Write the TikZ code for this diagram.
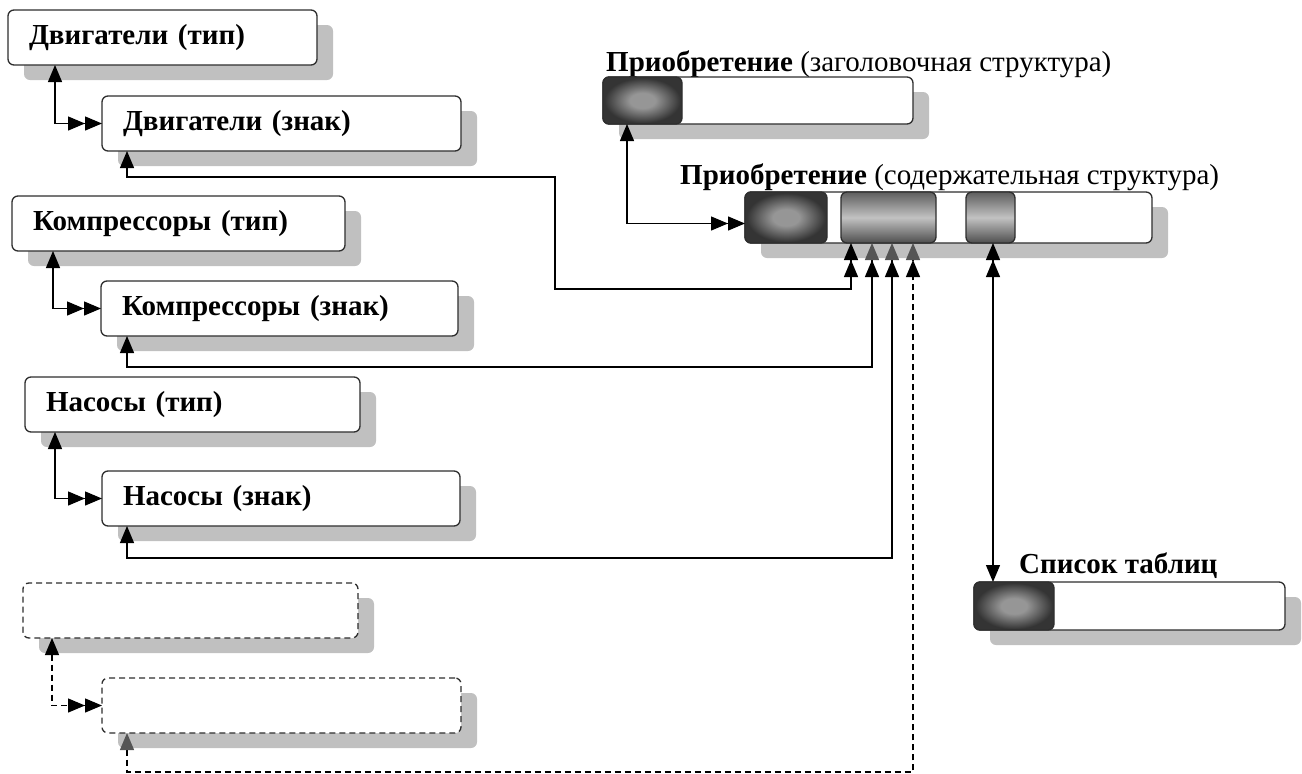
\documentclass[tikz,border=0pt]{standalone}
\usepackage{fontspec}
\setmainfont{Liberation Serif}
\usetikzlibrary{arrows.meta,shadows,calc}

\definecolor{edge}{HTML}{2E2E2E}
\definecolor{shadowgrey}{HTML}{C0C0C0}
\definecolor{keyedge}{HTML}{343434}
\definecolor{keymid}{HTML}{969696}
\definecolor{segtop}{HTML}{5E5E5E}
\definecolor{segmid}{HTML}{C2C2C2}
\definecolor{segbot}{HTML}{4E4E4E}
\definecolor{tipgrey}{HTML}{555555}

% soft glow used for the key part of each structure
\pgfdeclareradialshading{keyglow}{\pgfpoint{0bp}{0bp}}{%
  color(0bp)=(keymid); color(8bp)=(keymid); color(24bp)=(keyedge); color(50bp)=(keyedge)}

\newcommand\diagfont{\fontsize{29}{33}\selectfont}

\tikzset{
  Tri/.tip={Triangle[length=17pt,width=14pt]},
  GTri/.tip={Triangle[length=17pt,width=14pt,color=tipgrey]},
  box/.style={draw=edge, line width=1.3pt, rounded corners=6pt, fill=white,
    anchor=north west, inner xsep=21pt, inner ysep=0pt, outer sep=0pt,
    align=left, font=\diagfont\bfseries,
    drop shadow={shadow xshift=16pt, shadow yshift=-15pt, fill=shadowgrey, opacity=1}},
  ghost/.style={box, dash pattern=on 6pt off 4pt},
  keyseg/.style={draw=edge, line width=1.3pt, rounded corners=6pt,
    anchor=north west, inner sep=0pt, outer sep=0pt, shading=keyglow},
  fieldseg/.style={draw=edge, line width=1.3pt, rounded corners=6pt,
    anchor=north west, inner sep=0pt, outer sep=0pt,
    top color=segtop, bottom color=segbot, middle color=segmid},
  link/.style={draw=black, line width=1.3pt},
  dlink/.style={link, dash pattern=on 6pt off 4pt},
  title/.style={anchor=base west, inner sep=0pt, font=\diagfont},
}

\begin{document}
\begin{tikzpicture}[x=1pt, y=-1pt]
\useasboundingbox (0,0) rectangle (1302,774);

% type / sign tables on the left
\node[box, minimum width=309pt, minimum height=55pt, text width=267pt] (b1) at (8,10) {Двигатели (тип)};
\node[box, minimum width=359pt, minimum height=55pt, text width=317pt] (b2) at (102,96) {Двигатели (знак)};
\node[box, minimum width=333pt, minimum height=55pt, text width=291pt] (b3) at (12,196) {Компрессоры (тип)};
\node[box, minimum width=357pt, minimum height=55pt, text width=315pt] (b4) at (101,281) {Компрессоры (знак)};
\node[box, minimum width=335pt, minimum height=55pt, text width=293pt] (b5) at (25,377) {Насосы (тип)};
\node[box, minimum width=358pt, minimum height=55pt, text width=316pt] (b6) at (102,471) {Насосы (знак)};
\node[ghost, minimum width=335pt, minimum height=55pt, text width=293pt] (b7) at (23,583) {};
\node[ghost, minimum width=359pt, minimum height=55pt, text width=317pt] (b8) at (102,678) {};

% header structure
\node[title] (hdrlabel) at (606,71) {\textbf{Приобретение} (заголовочная структура)};
\node[box, minimum width=310pt, minimum height=47pt, text width=268pt] (hdr) at (603,77) {};
\node[keyseg, minimum width=79pt, minimum height=47pt] (hdrkey) at (hdr.north west) {};

% content structure
\node[title] (cntlabel) at (680,184) {\textbf{Приобретение} (содержательная структура)};
\node[box, minimum width=407pt, minimum height=51pt, text width=365pt] (cnt) at (745,192) {};
\node[keyseg, minimum width=82pt, minimum height=51pt] (cntkey) at (cnt.north west) {};
\node[fieldseg, minimum width=95pt, minimum height=51pt] (cntf1) at ([xshift=96pt]cnt.north west) {};
\node[fieldseg, minimum width=49pt, minimum height=51pt] (cntf2) at ([xshift=221pt]cnt.north west) {};

% table list
\node[title, font=\diagfont\bfseries] (lstlabel) at (1019,573) {Список таблиц};
\node[box, minimum width=311pt, minimum height=48pt, text width=269pt] (lst) at (974,582) {};
\node[keyseg, minimum width=80pt, minimum height=48pt] (lstkey) at (lst.north west) {};

% type -> sign links
\coordinate (k1) at ([xshift=-47pt]b2.west);
\coordinate (k2) at ([xshift=-48pt]b4.west);
\coordinate (k3) at ([xshift=-47pt]b6.west);
\coordinate (k4) at ([xshift=-50pt]b8.west);
\draw[link, {Tri[]}-{Tri[]Tri[]}] (k1 |- b1.south) |- (b2.west);
\draw[link, {Tri[]}-{Tri[]Tri[]}] (k2 |- b3.south) |- (b4.west);
\draw[link, {Tri[]}-{Tri[]Tri[]}] (k3 |- b5.south) |- (b6.west);
\draw[dlink, {Tri[]}-{Tri[]Tri[]}] (k4 |- b7.south) |- (b8.west);

% sign -> content links
\coordinate (in1) at ([xshift=106pt]cnt.south west);
\coordinate (in2) at ([xshift=127pt]cnt.south west);
\coordinate (in3) at ([xshift=147pt]cnt.south west);
\coordinate (in4) at ([xshift=168pt]cnt.south west);
\coordinate (s1) at ([xshift=25pt]b2.south west);
\coordinate (s2) at ([xshift=26pt]b4.south west);
\coordinate (s3) at ([xshift=25pt]b6.south west);
\coordinate (s4) at ([xshift=25pt]b8.south west);
\draw[link, {Tri[]}-{Tri[]Tri[]}] (s1) -- ++(0,26) -| (555,289) -| (in1);
\draw[link, {Tri[]}-{Tri[]GTri[]}] (s2) -- ++(0,31) -| (in2);
\draw[link, {Tri[]}-{Tri[]GTri[]}] (s3) -- ++(0,32) -| (in3);
\draw[dlink, {GTri[]}-{Tri[]GTri[]}] (s4) -- ++(0,39) -| (in4);

% header -> content, content -> table list
\coordinate (h0) at ([xshift=24pt]hdr.south west);
\coordinate (c0) at ([yshift=-6pt]cnt.west);
\draw[link, {Tri[]}-{Tri[]Tri[]}] (h0) |- (c0);
\coordinate (out) at ([xshift=248pt]cnt.south west);
\draw[link, {Tri[]Tri[]}-{Tri[]}] (out) -- (out |- lst.north);
\end{tikzpicture}
\end{document}
